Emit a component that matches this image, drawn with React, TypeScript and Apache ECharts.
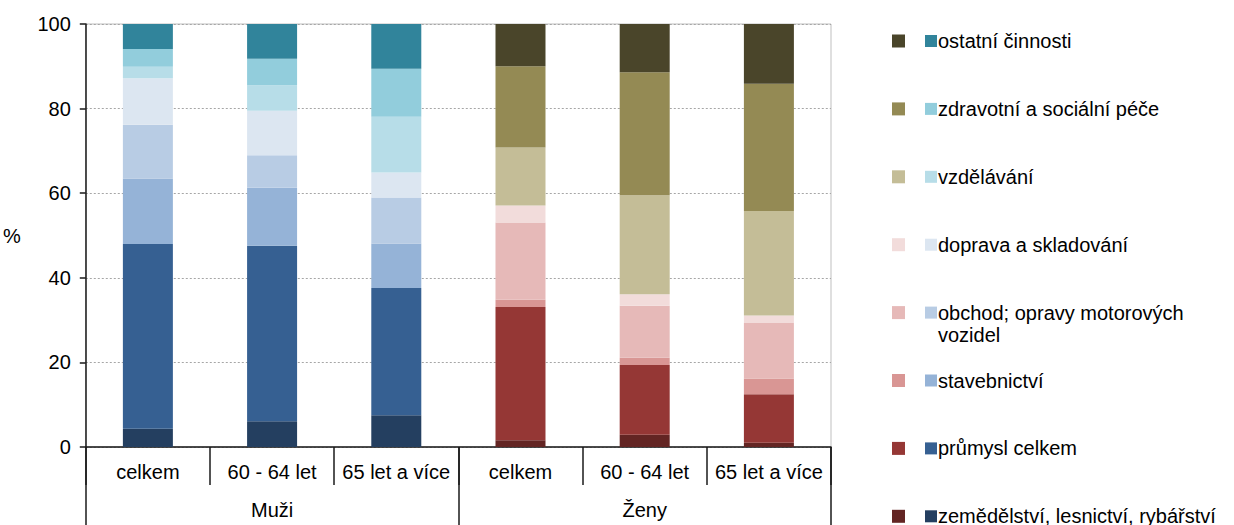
import React, { useEffect, useRef } from "react";
import * as echarts from "echarts";

const categories = ["celkem", "60 - 64 let", "65 let a více", "celkem", "60 - 64 let", "65 let a více"];
const groups = ["Muži", "Ženy"];
const yTicks = { min: 0, max: 100, interval: 20 };

// order: bottom -> top
const industries = [
  "zemědělství, lesnictví, rybářství",
  "průmysl celkem",
  "stavebnictví",
  "obchod; opravy motorových\nvozidel",
  "doprava a skladování",
  "vzdělávání",
  "zdravotní a sociální péče",
  "ostatní činnosti",
];

const muziCelkem = [4.3, 43.7, 15.5, 12.7, 11.0, 2.7, 4.2, 5.9];
const muzi6064 = [6.1, 41.5, 13.7, 7.7, 10.5, 6.0, 6.3, 8.2];
const muzi65 = [7.5, 30.1, 10.5, 10.9, 5.9, 13.2, 11.3, 10.6];
const zenyCelkem = [1.6, 31.5, 1.7, 18.3, 4.0, 13.7, 19.2, 10.0];
const zeny6064 = [2.9, 16.5, 1.7, 12.3, 2.7, 23.4, 29.1, 11.4];
const zeny65 = [1.0, 11.5, 3.7, 13.1, 1.8, 24.7, 30.1, 14.1];

const muziColors = ["#243F60", "#366092", "#95B3D7", "#B8CCE4", "#DCE6F1", "#B7DDE8", "#92CDDC", "#31849B"];
const zenyColors = ["#632523", "#953735", "#D99694", "#E6B9B8", "#F2DCDB", "#C4BD97", "#948A54", "#4A452A"];

const FONT = "'Liberation Sans', Arial, sans-serif";
const FS = 20;

export default function App() {
  const ref = useRef<HTMLDivElement>(null);

  useEffect(() => {
    if (!ref.current) return;
    const chart = echarts.init(ref.current, null, { renderer: "svg" });

    const series: any[] = [];
    industries.forEach((name, k) => {
      series.push({
        name: "M " + name,
        type: "bar",
        stack: "a",
        barWidth: 50,
        itemStyle: { color: muziColors[k] },
        data: [muziCelkem[k], muzi6064[k], muzi65[k], "-", "-", "-"],
      });
      series.push({
        name: "Z " + name,
        type: "bar",
        stack: "a",
        barWidth: 50,
        itemStyle: { color: zenyColors[k] },
        data: ["-", "-", "-", zenyCelkem[k], zeny6064[k], zeny65[k]],
      });
    });

    const graphic: any[] = [];
    const n = industries.length;
    for (let i = 0; i < n; i++) {
      const k = n - 1 - i; // top item first
      const cy = 41 + i * 67.9;
      graphic.push({
        type: "rect",
        shape: { x: 892, y: cy - 6.5, width: 13, height: 13 },
        style: { fill: zenyColors[k] },
      });
      graphic.push({
        type: "rect",
        shape: { x: 925, y: cy - 6, width: 12, height: 12 },
        style: { fill: muziColors[k] },
      });
      graphic.push({
        type: "text",
        x: 938,
        y: cy - 11,
        style: {
          text: industries[k],
          fill: "#000",
          font: `${FS}px ${FONT}`,
          lineHeight: 22,
          verticalAlign: "top",
          align: "left",
        },
      });
    }

    chart.setOption({
      animation: false,
      textStyle: { fontFamily: FONT },
      grid: {
        left: 85,
        right: 403,
        top: 24,
        bottom: 78,
        show: true,
        borderColor: "#bfbfbf",
        borderWidth: 1,
        backgroundColor: "transparent",
      },
      xAxis: [
        {
          type: "category",
          data: categories,
          position: "bottom",
          axisLine: { lineStyle: { color: "#1a1a1a", width: 1.5 } },
          axisTick: { show: true, length: 38, interval: 0, lineStyle: { color: "#1a1a1a", width: 1.5 } },
          axisLabel: { interval: 0, margin: 15, fontSize: FS, color: "#000", fontFamily: FONT },
          splitLine: { show: false },
        },
        {
          type: "category",
          data: groups,
          position: "bottom",
          axisLine: { show: false },
          axisTick: { show: true, length: 78, interval: 0, lineStyle: { color: "#1a1a1a", width: 1.5 } },
          axisLabel: { interval: 0, margin: 53, fontSize: FS, color: "#000", fontFamily: FONT },
          splitLine: { show: false },
        },
      ],
      yAxis: {
        type: "value",
        min: yTicks.min,
        max: yTicks.max,
        interval: yTicks.interval,
        name: "%",
        nameLocation: "middle",
        nameRotate: 0,
        nameGap: 65,
        nameTextStyle: { fontSize: FS, color: "#000", fontFamily: FONT },
        axisLine: { show: true, lineStyle: { color: "#1a1a1a", width: 1.5 } },
        axisTick: { show: true, length: 6, lineStyle: { color: "#1a1a1a", width: 1.5 } },
        axisLabel: { margin: 15, fontSize: FS, color: "#000", fontFamily: FONT },
        splitLine: { show: true, lineStyle: { color: "#a6a6a6", type: [2, 2], width: 1 } },
      },
      series,
      graphic,
    });

    return () => chart.dispose();
  }, []);

  return (
    <div
      ref={ref}
      style={{ position: "fixed", left: 0, top: 0, width: 1234, height: 525, background: "#fff" }}
    />
  );
}
